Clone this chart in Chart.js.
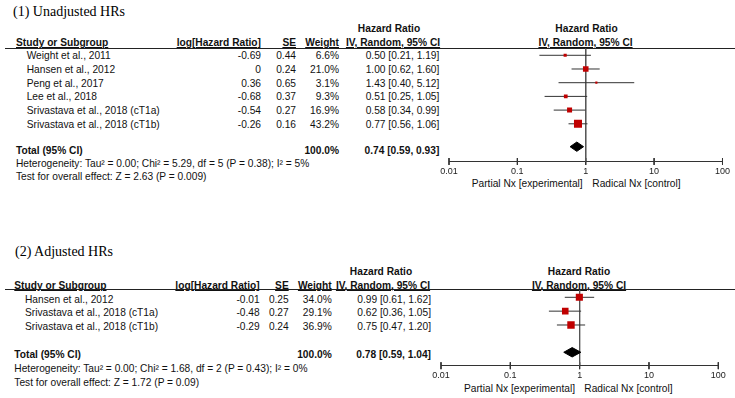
<!DOCTYPE html>
<html><head><meta charset="utf-8">
<script src="https://cdn.jsdelivr.net/npm/chart.js@4.4.1/dist/chart.umd.min.js"></script>
<style>
html,body{margin:0;padding:0;background:#fff;}
#page{position:relative;width:735px;height:398px;overflow:hidden;font-family:"Liberation Sans",Arial,sans-serif;font-size:10.2px;color:#111;}
.t{position:absolute;white-space:nowrap;line-height:12px;height:12px;}
.b{font-weight:bold;}
.u{text-decoration:underline;}
.title{font-family:"Liberation Serif","Times New Roman",serif;font-size:14px;line-height:16px;height:16px;color:#000;}
.rule{position:absolute;height:0;border-top:1.5px solid #222;}
canvas{position:absolute;}
</style></head><body><div id="page"></div>
<script>
// ---------------- data ----------------
const panelTitles = ['(1) Unadjusted HRs', '(2) Adjusted HRs'];
const columnHeaders = ['Study or Subgroup', 'log[Hazard Ratio]', 'SE', 'Weight'];
const effectHeader = ['Hazard Ratio', 'IV, Random, 95% CI'];
const totalLabel = 'Total (95% CI)';
const tickValues = [0.01, 0.1, 1, 10, 100];
const tickLabels = ['0.01', '0.1', '1', '10', '100'];
const favourLabels = ['Partial Nx [experimental]', 'Radical Nx [control]'];

const studies1 = ['Weight et al., 2011', 'Hansen et al., 2012', 'Peng et al., 2017', 'Lee et al., 2018', 'Srivastava et al., 2018 (cT1a)', 'Srivastava et al., 2018 (cT1b)'];
const logHR1 = [-0.69, 0, 0.36, -0.68, -0.54, -0.26];
const se1 = [0.44, 0.24, 0.65, 0.37, 0.27, 0.16];
const weight1 = [6.6, 21.0, 3.1, 9.3, 16.9, 43.2];
const hr1 = [0.50, 1.00, 1.43, 0.51, 0.58, 0.77];
const ciLow1 = [0.21, 0.62, 0.40, 0.25, 0.34, 0.56];
const ciHigh1 = [1.19, 1.60, 5.12, 1.05, 0.99, 1.06];
const total1 = [0.74, 0.59, 0.93];   // pooled HR, lower, upper
const totalWeight1 = 100.0;
const heterogeneity1 = 'Heterogeneity: Tau² = 0.00; Chi² = 5.29, df = 5 (P = 0.38); I² = 5%';
const overall1 = 'Test for overall effect: Z = 2.63 (P = 0.009)';

const studies2 = ['Hansen et al., 2012', 'Srivastava et al., 2018 (cT1a)', 'Srivastava et al., 2018 (cT1b)'];
const logHR2 = [-0.01, -0.48, -0.29];
const se2 = [0.25, 0.27, 0.24];
const weight2 = [34.0, 29.1, 36.9];
const hr2 = [0.99, 0.62, 0.75];
const ciLow2 = [0.61, 0.36, 0.47];
const ciHigh2 = [1.62, 1.05, 1.20];
const total2 = [0.78, 0.59, 1.04];
const totalWeight2 = 100.0;
const heterogeneity2 = 'Heterogeneity: Tau² = 0.00; Chi² = 1.68, df = 2 (P = 0.43); I² = 0%';
const overall2 = 'Test for overall effect: Z = 1.72 (P = 0.09)';

// ---------------- layout (positions only) ----------------
const layouts = [
  {title:[13, 11.7], h1y:29.3, h2y:43, ruleY:47.6, hdrX:16, nameX:26.7, logX:261, seX:296, wX:339, ciX:439.3,
   hrHdrX:389, ivHdrX:393, plotHdrX:586.5, plotIvX:585.5, rowY0:56.3, rowDy:13.7, totY:150.5, hetY:164, testY:176.7,
   partialRight:582.7, radicalLeft:592.3, labY:183.7,
   canvas:{left:430, top:40, width:305, height:150}, pad:{left:19, right:9.3, top:8.3, bottom:8.5},
   yMin:-0.51, yMax:7.75, totalGap:1.67, dh:0.34, tickHalf:0.25, tickPad:5},
  {title:[15, 251.7], h1y:271.7, h2y:285.7, ruleY:289.3, hdrX:14.3, nameX:25, logX:259.7, seX:288.7, wX:331.7, ciX:431,
   hrHdrX:381, ivHdrX:383, plotHdrX:579, plotIvX:579, rowY0:299.5, rowDy:13.85, totY:354.8, hetY:369, testY:382.7,
   partialRight:575, radicalLeft:584.3, labY:389,
   canvas:{left:420, top:280, width:315, height:115}, pad:{left:21, right:16.7, top:10, bottom:9.3},
   yMin:-0.527, yMax:4.94, totalGap:1.97, dh:0.34, tickHalf:0.25, tickPad:4}
];
const boxK = 1.22;

const panels = [
  {studies:studies1, logHR:logHR1, se:se1, weight:weight1, hr:hr1, lo:ciLow1, hi:ciHigh1, total:total1, totalWeight:totalWeight1, het:heterogeneity1, overall:overall1},
  {studies:studies2, logHR:logHR2, se:se2, weight:weight2, hr:hr2, lo:ciLow2, hi:ciHigh2, total:total2, totalWeight:totalWeight2, het:heterogeneity2, overall:overall2}
];

const page = document.getElementById('page');
function T(text, x, y, align, cls) {
  const d = document.createElement('div');
  d.className = 't ' + (cls || '');
  d.textContent = text;
  const h = (cls && cls.indexOf('title') >= 0) ? 8 : 6;
  d.style.top = (y - h) + 'px';
  if (align === 'right') d.style.right = (735 - x) + 'px';
  else if (align === 'center') { d.style.left = x + 'px'; d.style.transform = 'translateX(-50%)'; }
  else d.style.left = x + 'px';
  page.appendChild(d);
}
const fmtLog = v => v === 0 ? '0' : v.toFixed(2);
const fmtCI = (h, l, u) => h.toFixed(2) + ' [' + l.toFixed(2) + ', ' + u.toFixed(2) + ']';

panels.forEach((d, p) => {
  const L = layouts[p];
  T(panelTitles[p], L.title[0], L.title[1], 'left', 'title');
  T(effectHeader[0], L.hrHdrX, L.h1y, 'center', 'b');
  T(effectHeader[1], L.ivHdrX, L.h2y, 'center', 'b u');
  T(effectHeader[0], L.plotHdrX, L.h1y, 'center', 'b');
  T(effectHeader[1], L.plotIvX, L.h2y, 'center', 'b u');
  T(columnHeaders[0], L.hdrX, L.h2y, 'left', 'b u');
  T(columnHeaders[1], L.logX, L.h2y, 'right', 'b u');
  T(columnHeaders[2], L.seX, L.h2y, 'right', 'b u');
  T(columnHeaders[3], L.wX, L.h2y, 'right', 'b u');
  const r = document.createElement('div');
  r.className = 'rule'; r.style.left = '5px'; r.style.width = '730px'; r.style.top = L.ruleY + 'px';
  page.appendChild(r);
  d.studies.forEach((s, i) => {
    const y = L.rowY0 + L.rowDy * i;
    T(s, L.nameX, y, 'left');
    T(fmtLog(d.logHR[i]), L.logX, y, 'right');
    T(d.se[i].toFixed(2), L.seX, y, 'right');
    T(d.weight[i].toFixed(1) + '%', L.wX, y, 'right');
    T(fmtCI(d.hr[i], d.lo[i], d.hi[i]), L.ciX, y, 'right');
  });
  T(totalLabel, L.hdrX, L.totY, 'left', 'b');
  T(d.totalWeight.toFixed(1) + '%', L.wX, L.totY, 'right', 'b');
  T(fmtCI(d.total[0], d.total[1], d.total[2]), L.ciX, L.totY, 'right', 'b');
  T(d.het, L.hdrX, L.hetY, 'left');
  T(d.overall, L.hdrX, L.testY, 'left');
  T(favourLabels[0], L.partialRight, L.labY, 'right');
  T(favourLabels[1], L.radicalLeft, L.labY, 'left');

  // chart
  const c = document.createElement('canvas');
  c.width = L.canvas.width; c.height = L.canvas.height;
  c.style.left = L.canvas.left + 'px'; c.style.top = L.canvas.top + 'px';
  page.appendChild(c);
  const n = d.hr.length;
  const datasets = [];
  // line of no effect
  datasets.push({type:'line', order:3, data:[{x:1, y:L.yMin}, {x:1, y:L.yMax}], borderColor:'#555', borderWidth:1, pointRadius:0});
  // confidence intervals
  d.lo.forEach((lo, i) => datasets.push({type:'line', order:2, data:[{x:lo, y:i}, {x:d.hi[i], y:i}], borderColor:'#333', borderWidth:1, pointRadius:0}));
  // study boxes
  datasets.push({type:'scatter', order:0, data:d.hr.map((v, i) => ({x:v, y:i})), pointStyle:'rect',
    pointRadius:d.weight.map(w => boxK * Math.sqrt(w) / Math.SQRT2), backgroundColor:'#c00000', borderColor:'#c00000', borderWidth:0});
  // pooled diamond
  const yd = n - 1 + L.totalGap;
  const [th, tl, tu] = d.total;
  datasets.push({type:'line', order:0, data:[{x:tl, y:yd}, {x:th, y:yd - L.dh}, {x:tu, y:yd}, {x:th, y:yd + L.dh}, {x:tl, y:yd}],
    fill:'shape', backgroundColor:'#000', borderColor:'#000', borderWidth:1, pointRadius:0, tension:0});
  // axis tick marks crossing the axis line
  tickValues.forEach(v => datasets.push({type:'line', order:4, clip:false,
    data:[{x:v, y:L.yMax - L.tickHalf}, {x:v, y:L.yMax + L.tickHalf}], borderColor:'#333', borderWidth:1, pointRadius:0}));

  new Chart(c, {
    type:'scatter',
    data:{datasets},
    options:{
      responsive:false, animation:false, devicePixelRatio:1,
      layout:{padding:L.pad},
      plugins:{legend:{display:false}, tooltip:{enabled:false}},
      scales:{
        x:{type:'logarithmic', min:0.01, max:100, position:'bottom',
          afterBuildTicks:s => { s.ticks = tickValues.map(v => ({value:v})); },
          afterFit:s => { s.height = 20; },
          grid:{display:false, drawTicks:false},
          border:{display:true, color:'#333', width:1},
          ticks:{autoSkip:false, maxRotation:0, padding:L.tickPad, color:'#222',
            font:{family:'"Liberation Sans", Arial, sans-serif', size:9},
            callback:v => { const k = tickValues.indexOf(v); return k >= 0 ? tickLabels[k] : ''; }}
        },
        y:{type:'linear', display:false, reverse:true, min:L.yMin, max:L.yMax}
      }
    }
  });
});
</script></body></html>
